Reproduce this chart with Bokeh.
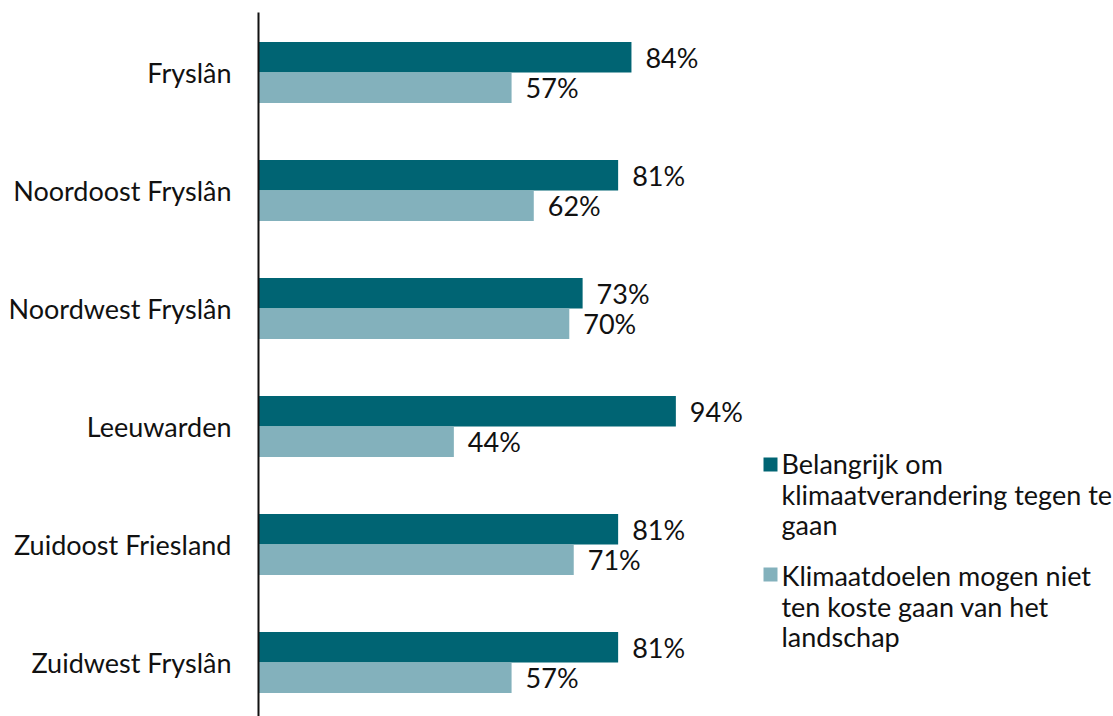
from bokeh.plotting import figure
from bokeh.models import ColumnDataSource, Range1d, Label, BoxAnnotation
from bokeh.core.properties import value
from bokeh.embed import file_html
from bokeh.resources import INLINE

categories = ["Fryslân", "Noordoost Fryslân", "Noordwest Fryslân", "Leeuwarden",
              "Zuidoost Friesland", "Zuidwest Fryslân"]
belangrijk = [84, 81, 73, 94, 81, 81]
landschap = [57, 62, 70, 44, 71, 57]
series_names = ["Belangrijk om\nklimaatverandering tegen te\ngaan",
                "Klimaatdoelen mogen niet\nten koste gaan van het\nlandschap"]

DARK = "#006473"
LIGHT = "#83B1BC"
FONT = "Lato"
FS = "27px"
TXT = "#111111"

pos = list(range(len(categories)))
off = 0.129
src1 = ColumnDataSource(dict(y=[p - off for p in pos], v=belangrijk,
                             t=[f"{v}%" for v in belangrijk]))
src2 = ColumnDataSource(dict(y=[p + off for p in pos], v=landschap,
                             t=[f"{v}%" for v in landschap]))

p = figure(width=1113, height=716, output_backend="svg", toolbar_location=None,
           x_range=Range1d(0, 855 / 4.44), y_range=Range1d(5.458, -0.508),
           x_axis_location=None, min_border_left=258, min_border_right=0,
           min_border_top=12, min_border_bottom=0, outline_line_color=None)
p.grid.visible = False

r1 = p.hbar(y="y", right="v", left=0, height=0.258, source=src1,
            fill_color=DARK, line_color=None)
r2 = p.hbar(y="y", right="v", left=0, height=0.258, source=src2,
            fill_color=LIGHT, line_color=None)

for s in (src1, src2):
    p.text(x="v", y="y", text="t", source=s, x_offset=14, text_baseline="middle",
           text_align="left", text_font=value(FONT), text_font_size=FS,
           text_color=TXT)

ax = p.yaxis[0]
ax.ticker = pos
ax.major_label_overrides = {i: c for i, c in enumerate(categories)}
ax.major_tick_line_color = None
ax.minor_tick_line_color = None
ax.axis_line_color = "#111111"
ax.axis_line_width = 2
ax.major_label_standoff = 21
ax.major_label_text_font = FONT
ax.major_label_text_font_size = FS
ax.major_label_text_color = TXT

# legend (screen units relative to the plot frame)
for color, name, top, ty in ((DARK, series_names[0], 259, 269.5),
                             (LIGHT, series_names[1], 149, 157.5)):
    p.add_layout(BoxAnnotation(left=505, right=519, top=top, bottom=top - 14,
                               left_units="screen", right_units="screen",
                               top_units="screen", bottom_units="screen",
                               fill_color=color, fill_alpha=1, line_color=None))
    p.add_layout(Label(x=523, y=ty, x_units="screen", y_units="screen",
                       text=name, text_font=FONT, text_font_size=FS,
                       text_color=TXT, text_baseline="top", text_align="left",
                       text_line_height=0.93))

open("out.html", "w").write(file_html(p, INLINE))
